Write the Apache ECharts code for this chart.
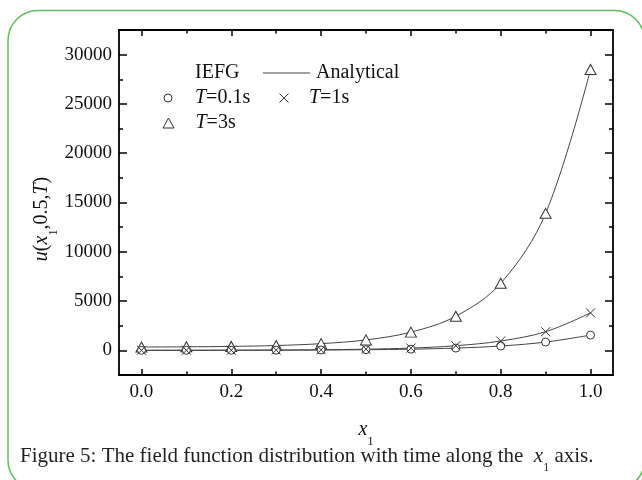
<!DOCTYPE html>
<html>
<head>
<meta charset="utf-8">
<script src="https://cdn.jsdelivr.net/npm/echarts@6/dist/echarts.min.js"></script>
<style>
  html, body { margin: 0; padding: 0; background: #fff; }
  #chart { width: 642px; height: 480px; }
</style>
</head>
<body>
<div id="chart"></div>
<script>
// Nodes along the x1 axis
const xNodes = [0.0, 0.1, 0.2, 0.3, 0.4, 0.5, 0.6, 0.7, 0.8, 0.9, 1.0];
// u(x1, 0.5, T) at each node
const uT01 = [3, 5, 10, 18, 35, 65, 120, 230, 440, 840, 1550];
const uT1  = [5, 8, 15, 30, 60, 120, 230, 470, 950, 1890, 3800];
const uT3  = [340, 360, 400, 490, 680, 1060, 1850, 3460, 6800, 13900, 28500];

// Tick positions
const xMajorTicks = [0.0, 0.2, 0.4, 0.6, 0.8, 1.0];
const xMinorTicks = [0.1, 0.3, 0.5, 0.7, 0.9];
const yMajorTicks = [0, 5000, 10000, 15000, 20000, 25000, 30000];
const yMinorTicks = [2500, 7500, 12500, 17500, 22500, 27500];

const SERIF = "'Liberation Serif', 'Times New Roman', serif";
const INK = '#111';
const MARK = '#333';
const X_RANGE = [-0.05, 1.05];
const Y_RANGE = [-2500, 32500];

const pairs = ys => xNodes.map((x, i) => [x, ys[i]]);

function xAxisDef(position, ticks, len, withLine, withLabels, extra) {
  return Object.assign({
    type: 'value', position: position, gridIndex: 0,
    min: X_RANGE[0], max: X_RANGE[1],
    axisLine: { show: withLine, onZero: false, lineStyle: { color: '#000', width: 1.8 } },
    axisTick: { show: true, inside: true, length: len, customValues: ticks,
                lineStyle: { color: '#000', width: 1.5 } },
    axisLabel: { show: withLabels, customValues: ticks, margin: 8,
                 formatter: v => v.toFixed(1),
                 fontFamily: SERIF, fontSize: 19, color: INK },
    splitLine: { show: false }
  }, extra || {});
}

function yAxisDef(position, ticks, len, withLine, withLabels) {
  return {
    type: 'value', position: position, gridIndex: 0,
    min: Y_RANGE[0], max: Y_RANGE[1],
    axisLine: { show: withLine, onZero: false, lineStyle: { color: '#000', width: 1.8 } },
    axisTick: { show: true, inside: true, length: len, customValues: ticks,
                lineStyle: { color: '#000', width: 1.5 } },
    axisLabel: { show: withLabels, customValues: ticks, margin: 7,
                 formatter: v => String(v),
                 fontFamily: SERIF, fontSize: 19, color: INK },
    splitLine: { show: false }
  };
}

const italic = { fontStyle: 'italic', fontFamily: SERIF, fontSize: 20, color: INK };
const subRich = {
  i: { fontStyle: 'italic', fontFamily: SERIF, fontSize: 20, fill: INK, color: INK, lineHeight: 24 },
  s: { fontFamily: SERIF, fontSize: 12, fill: INK, color: INK, lineHeight: 12, verticalAlign: 'bottom', padding: [0, 0, -6, 0] }
};

const chart = echarts.init(document.getElementById('chart'), null, { renderer: 'canvas' });

const crossPath = 'path://M0,0L10,10M0,10L10,0';
const analyticLine = { color: '#444', width: 1 };

function markerLegend(name, left, top, w, h, padLeft) {
  return {
    data: [name], left: left, top: top, padding: 0, itemGap: 0,
    itemWidth: w, itemHeight: h, selectedMode: false,
    itemStyle: { borderWidth: 1, borderColor: MARK },
    formatter: n => '{i|T}' + n.slice(1),
    textStyle: { fontFamily: SERIF, fontSize: 20, color: INK, lineHeight: 20,
                 padding: [0, 0, 0, padLeft], rich: { i: italic } }
  };
}

const option = {
  animation: false,
  backgroundColor: '#fff',
  grid: { left: 119, right: 29, top: 30, bottom: 105, containLabel: false },
  xAxis: [
    xAxisDef('bottom', xMajorTicks, 6, true, true, {
      name: '{i|x}{s|1}', nameLocation: 'middle', nameGap: 43,
      nameTextStyle: { fontFamily: SERIF, fontSize: 20, color: INK, lineHeight: 24, rich: subRich }
    }),
    xAxisDef('bottom', xMinorTicks, 3.5, false, false),
    xAxisDef('top', xMajorTicks, 6, true, false),
    xAxisDef('top', xMinorTicks, 3.5, false, false)
  ],
  yAxis: [
    yAxisDef('left', yMajorTicks, 8, true, true),
    yAxisDef('left', yMinorTicks, 4, false, false),
    yAxisDef('right', yMajorTicks, 8, true, false),
    yAxisDef('right', yMinorTicks, 4, false, false)
  ],
  legend: [
    { data: ['Analytical'], left: 263, top: 63, padding: 0, itemGap: 0,
      icon: 'rect', symbolKeepAspect: false,
      itemWidth: 47, itemHeight: 1, selectedMode: false,
      textStyle: { fontFamily: SERIF, fontSize: 20, color: INK, lineHeight: 20, padding: [0, 0, 0, 1] } },
    markerLegend('T=0.1s', 163.5, 88, 9, 8, 17.5),
    markerLegend('T=1s', 277, 88, 10, 9, 15),
    markerLegend('T=3s', 162.5, 113, 11, 10, 16.5)
  ],
  series: [
    // Analytical solutions
    { name: 'Analytical', type: 'line', data: pairs(uT01), smooth: 0.35, symbol: 'none', showSymbol: false,
      lineStyle: analyticLine, itemStyle: { color: '#444' }, silent: true, z: 2 },
    { name: 'Analytical', type: 'line', data: pairs(uT1), smooth: 0.35, symbol: 'none', showSymbol: false,
      lineStyle: analyticLine, itemStyle: { color: '#444' }, silent: true, z: 2 },
    { name: 'Analytical', type: 'line', data: pairs(uT3), smooth: 0.35, symbol: 'none', showSymbol: false,
      lineStyle: analyticLine, itemStyle: { color: '#444' }, silent: true, z: 2 },
    // IEFG results
    { name: 'T=3s', type: 'scatter', data: pairs(uT3), symbol: 'triangle', symbolSize: [11, 10],
      itemStyle: { color: '#fff', borderColor: MARK, borderWidth: 1, opacity: 1 }, silent: true, z: 3 },
    { name: 'T=0.1s', type: 'scatter', data: pairs(uT01), symbol: 'circle', symbolSize: 8,
      itemStyle: { color: '#fff', borderColor: MARK, borderWidth: 1, opacity: 1 }, silent: true, z: 4 },
    { name: 'T=1s', type: 'scatter', data: pairs(uT1), symbol: crossPath, symbolSize: 9,
      itemStyle: { color: 'none', borderColor: MARK, borderWidth: 1, opacity: 1 }, silent: true, z: 5 }
  ],
  graphic: [
    { type: 'rect', silent: true, z: -1,
      shape: { x: 8, y: 10.5, width: 636.5, height: 479.5, r: 30 },
      style: { fill: 'none', stroke: '#62bd5f', lineWidth: 1.5 } },
    { type: 'text', silent: true, x: 195, y: 73,
      style: { text: 'IEFG', fontFamily: SERIF, fontSize: 20, fill: INK, verticalAlign: 'middle' } },
    // vertical axis title
    { type: 'text', silent: true, x: 42, y: 219, rotation: Math.PI / 2,
      style: { text: '{i|u}({i|x}{s|1},0.5,{i|T})', fontFamily: SERIF, fontSize: 20, fill: INK,
               lineHeight: 24, align: 'center', verticalAlign: 'middle', rich: subRich } },
    // figure caption
    { type: 'text', silent: true, x: 20, y: 456,
      style: {
        text: 'Figure 5: The field function distribution with time along the  {i|x}{s|1} axis.',
        fontFamily: SERIF, fontSize: 21, fill: '#231f20', verticalAlign: 'middle', lineHeight: 24,
        rich: {
          i: { fontStyle: 'italic', fontFamily: SERIF, fontSize: 21, fill: '#231f20', lineHeight: 24 },
          s: { fontFamily: SERIF, fontSize: 12, fill: '#231f20', lineHeight: 12, verticalAlign: 'bottom', padding: [0, 0, -6, 0] }
        }
      } }
  ]
};

chart.setOption(option);
</script>
</body>
</html>
